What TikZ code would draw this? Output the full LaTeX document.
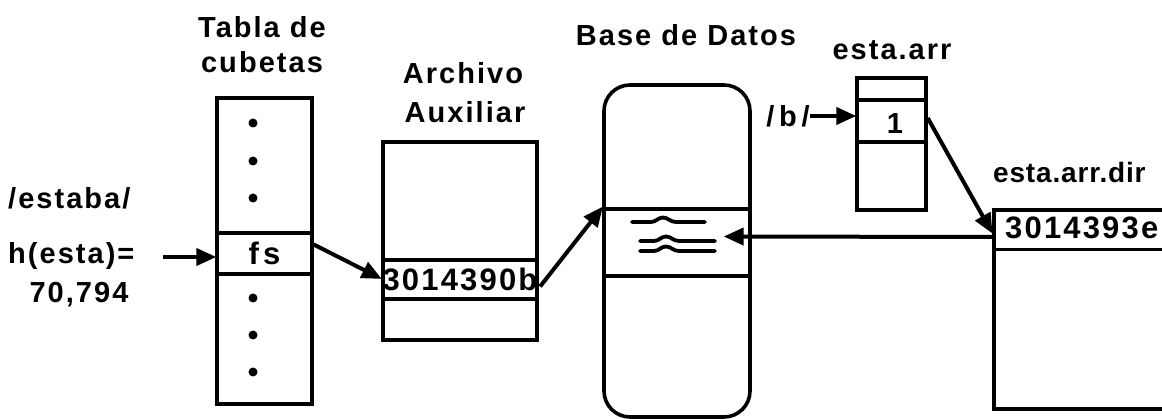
\documentclass[tikz,border=0pt]{standalone}
\usepackage{fontspec}
\setmainfont{Liberation Sans}[BoldFont={Liberation Sans Bold},LetterSpace=7]
\usetikzlibrary{arrows.meta,calc}
\tikzset{
  lbl/.style={inner sep=0pt,font=\bfseries\fontsize{29}{32}\selectfont},
  box/.style={draw,line width=3.6pt,inner sep=0pt},
  cell/.style={draw,line width=3.4pt,inner sep=0pt,font=\bfseries\fontsize{31}{32}\selectfont},
  ptr/.style={line width=4pt,-{Triangle[length=20pt,width=17pt]},shorten >=-1pt},
  wave/.style={line width=3.8pt,line cap=round},
  dot/.style={circle,fill,inner sep=0pt,minimum size=9pt}
}
\begin{document}
\begin{tikzpicture}[x=1pt,y=-1pt]
\useasboundingbox (0,0) rectangle (1162,419);
\clip (0,0) rectangle (1162,419);

% hash bucket table
\node[lbl] (tablaA) at (262,27) {Tabla de};
\node[lbl] (tablaB) at (262,62) {cubetas};
\node[box,minimum width=95pt,minimum height=306pt] (tabla) at (264.5,251) {};
\node[cell,minimum width=95pt,minimum height=41pt] (fs) at (264.5,253.5) {f\hspace{4pt}s};
\foreach \yy/\nm in {123/d1,161/d2,198/d3,298/d4,335/d5,372/d6}
  \node[dot] (\nm) at (253,\yy) {};

% hashed key
\node[lbl,anchor=west] (estaba) at (8,198) {/estaba/};
\node[lbl,anchor=west] (hesta) at (8,256) {h(esta)=};
\node[lbl] (hval) at (79,295) {70,794};
\coordinate (hin) at (163,257);

% auxiliary file
\node[lbl] (auxA) at (463,73) {Archivo};
\node[lbl] (auxB) at (465,112) {Auxiliar};
\node[box,minimum width=154pt,minimum height=198pt] (aux) at (460,241) {};
\node[cell,minimum width=154pt,minimum height=39pt] (addr) at (460,279.5) {3014390b};

% database
\node[lbl] (dbl) at (686,35) {Base de Datos};
\node[box,rounded corners=26pt,minimum width=146pt,minimum height=332pt] (db) at (677,251) {};
\node[cell,minimum width=146pt,minimum height=67pt] (rec) at (677,242.5) {};
\draw[wave] (632,222) -- (651,222) .. controls (656,222) and (658,217.5) .. (663,217.5)
   .. controls (668,217.5) and (670,222) .. (676,222) -- (705,222);
\draw[wave] (640,241) -- (654,241) .. controls (659,241) and (661,236.5) .. (666,236.5)
   .. controls (671,236.5) and (673,241) .. (679,241) -- (715,241);
\draw[wave] (640,251) -- (654,251) .. controls (659,251) and (661,246.5) .. (666,246.5)
   .. controls (671,246.5) and (673,251) .. (679,251) -- (715,251);

% inverted list
\node[lbl] (arrl) at (892,50) {esta.arr};
\node[box,minimum width=69pt,minimum height=132pt] (arr) at (891.5,144) {};
\node[cell,minimum width=69pt,minimum height=42pt] (one) at (891.5,121) {};
\node[lbl] (onet) at (895,124) {1};
\node[lbl] (bkey) at (788,116) {/\,b\,/};

% address list
\node[lbl,anchor=west,font=\bfseries\fontsize{28}{32}\selectfont\addfontfeature{LetterSpace=3}] (dirl) at (993,172) {esta.arr.dir};
\node[box,minimum width=200pt,minimum height=199pt,anchor=north west] (dir) at (992,208) {};
\node[cell,minimum width=200pt,minimum height=40pt,anchor=north west] (dcell) at (992,208) {};
\node[lbl,anchor=west,font=\bfseries\fontsize{31}{32}\selectfont] (dtext) at (1005,228) {3014393e};

% pointers
\draw[ptr] (hin) -- (fs.west |- hin);
\draw[ptr] ($(fs.east)+(0,-9)$) -- ($(addr.west)+(0,-1)$);
\draw[ptr] ($(addr.east)+(1,7)$) -- (rec.north west);
\draw[ptr] (dcell.west |- 0,237) -- ($(rec.east)+(-27,-6)$);
\draw[ptr] (bkey.east) -- (one.west |- bkey.east);
\draw[ptr] ($(one.east)+(0,-3)$) -- ($(dcell.west)+(0,3)$);
\end{tikzpicture}
\end{document}
